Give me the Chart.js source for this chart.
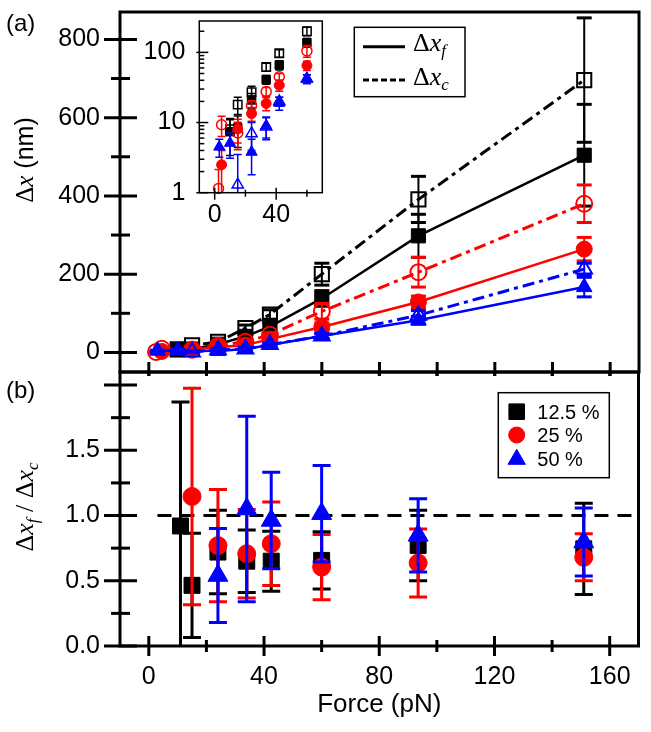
<!DOCTYPE html>
<html>
<head>
<meta charset="utf-8">
<script src="https://cdn.jsdelivr.net/npm/chart.js@4/dist/chart.umd.min.js"></script>
<style>
html, body { margin: 0; padding: 0; background: #fff; }
#wrap { position: relative; width: 651px; height: 732px; background: #fff; }
#wrap canvas { position: absolute; left: 0; top: 0; }
</style>
</head>
<body>
<div id="wrap">
  <canvas id="cB" width="651" height="732"></canvas>
  <canvas id="cA" width="651" height="732"></canvas>
  <canvas id="cI" width="651" height="732"></canvas>
</div>
<script>
// ---------------- DATA ----------------
const xTicksMain = [0, 40, 80, 120, 160];
const xMinorMain = [20, 60, 100, 140];
const yTicksA = [0, 200, 400, 600, 800];
const yMinorA = [100, 300, 500, 700];
const yTicksB = [0, 0.5, 1.0, 1.5];
const yMajorB = [0, 0.5, 1.0, 1.5, 2.0];
const yMinorB = [0.25, 0.75, 1.25, 1.75];
const insetXTicks = [0, 40];
const insetXMinor = [20, 60];
const insetYTicks = [1, 10, 100];
const insetYMinor = [2, 3, 4, 5, 6, 7, 8, 9, 20, 30, 40, 50, 60, 70, 80, 90, 200];

// 12.5 %
const force12 = [10, 15, 24, 33.5, 42, 60, 93.5, 151];
const dxf12 = [7.4, 8.4, 21, 41, 66, 138, 298, 504];
const dxf12Err = [4, 4, 5, 6, 10, 20, 55, 130];
const dxc12 = [8, 18, 27, 62, 97, 200, 391, 696];
const dxc12Err = [3, 5, 6, 8, 12, 28, 59, 159];
// 25 %
const force25f = [4.5, 15, 24, 33.5, 42, 60, 93.5, 151];
const dxf25 = [2.5, 8.1, 13.4, 18.7, 34, 65, 129, 264];
const dxf25Err = [1.5, 3, 3, 4, 6, 10, 15, 30];
const force25c = [2.5, 4.5, 15, 24, 33.5, 42, 60, 93.5, 151];
const dxc25 = [1.15, 9.3, 7.1, 17.4, 27.6, 45, 105, 205, 380];
const dxc25Err = [1, 3, 3, 3, 4, 5, 20, 38, 48];
// 50 %
const force50f = [3, 10, 24, 33.5, 42, 60, 93.5, 151];
const dxf50 = [4.5, 5.1, 3.8, 9, 19, 42, 82, 167];
const dxf50Err = [1.3, 2, 2, 3, 4, 6, 10, 25];
const force50c = [15, 24, 33.5, 42, 60, 93.5, 151];
const dxc50 = [1.3, 7.0, 8.7, 20, 42, 95, 213];
const dxc50Err = [2.2, 3, 3, 3, 6, 12, 15];

// ratio Δx_f / Δx_c
const forceR12 = [11, 15, 24, 34, 42.5, 60, 93.5, 151];
const ratio12 = [0.92, 0.465, 0.72, 0.65, 0.65, 0.656, 0.771, 0.745];
const ratio12Err = [0.95, 0.40, 0.32, 0.24, 0.23, 0.22, 0.27, 0.35];
const forceR25 = [15, 24, 34, 42.5, 60, 93.5, 151];
const ratio25 = [1.146, 0.77, 0.707, 0.784, 0.605, 0.636, 0.68];
const ratio25Err = [0.83, 0.43, 0.34, 0.32, 0.25, 0.26, 0.18];
const forceR50 = [24, 34, 42.5, 60, 93.5, 151];
const ratio50 = [0.54, 1.05, 0.962, 1.014, 0.848, 0.797];
const ratio50Err = [0.36, 0.71, 0.37, 0.37, 0.28, 0.26];
const refLineX = [3, 170];
const refLineY = [1, 1];

const seriesLabels = ['12.5 %', '25 %', '50 %'];

// ---------------- STYLE ----------------
const SANS = '"Liberation Sans", Arial, sans-serif';
const SERIF = '"Liberation Serif", "Times New Roman", serif';
const BLACK = '#000000', RED = '#ff0000', BLUE = '#0000ff';
const DASHDOT = [12, 5, 4, 5];
Chart.defaults.font.family = SANS;
Chart.defaults.color = '#000';

const pts = (xs, ys) => xs.map((x, i) => ({ x: x, y: ys[i] }));

function strokeLine(ctx, x1, y1, x2, y2) {
  ctx.beginPath(); ctx.moveTo(x1, y1); ctx.lineTo(x2, y2); ctx.stroke();
}
function richText(ctx, parts, x, y, rot, align) {
  ctx.save();
  ctx.translate(x, y);
  if (rot) ctx.rotate(rot);
  let total = 0;
  parts.forEach(p => { ctx.font = p.font; p.w = ctx.measureText(p.t).width; total += p.w; });
  let cx = align === 'center' ? -total / 2 : 0;
  ctx.textBaseline = 'alphabetic'; ctx.textAlign = 'left'; ctx.fillStyle = '#000';
  parts.forEach(p => { ctx.font = p.font; ctx.fillText(p.t, cx, p.dy || 0); cx += p.w; });
  ctx.restore();
}
function dxParts(sub, size) {
  return [
    { t: 'Δ', font: size + 'px ' + SERIF },
    { t: 'x', font: 'italic ' + size + 'px ' + SERIF },
    { t: sub, font: 'italic ' + Math.round(size * 0.65) + 'px ' + SERIF, dy: size * 0.2 }
  ];
}

// error bars, drawn through the chart's scales
const errPlugin = {
  id: 'err',
  beforeDatasetDraw(chart, args, opts) {
    const ds = chart.data.datasets[args.index];
    if (!ds.errors) return;
    const xs = chart.scales.x, ys = chart.scales.y, ctx = chart.ctx, a = chart.chartArea;
    ctx.save();
    ctx.beginPath(); ctx.rect(a.left, a.top - 2, a.right - a.left, a.bottom - a.top + 2); ctx.clip();
    ctx.strokeStyle = ds.borderColor; ctx.setLineDash([]);
    ds.data.forEach((p, i) => {
      const e = ds.errors[i];
      const px = xs.getPixelForValue(p.x);
      const top = ys.getPixelForValue(p.y + e);
      const lowV = p.y - e;
      const bot = ys.getPixelForValue(opts.log && lowV <= 0 ? 0.01 : lowV);
      ctx.lineWidth = opts.lw;
      strokeLine(ctx, px, top, px, bot);
      ctx.lineWidth = opts.capLw;
      strokeLine(ctx, px - opts.cap, top, px + opts.cap, top);
      strokeLine(ctx, px - opts.cap, bot, px + opts.cap, bot);
    });
    ctx.restore();
  }
};

function yAxis(type, min, max, ticks, fmt, width, pad, size) {
  return {
    type: type, position: 'left', min: min, max: max,
    afterBuildTicks: s => { s.ticks = ticks.map(v => ({ value: v })); },
    afterFit: s => { s.width = width; s.paddingTop = 0; s.paddingBottom = 0; },
    grid: { display: false, drawTicks: false }, border: { display: false },
    ticks: { padding: pad, autoSkip: false, color: '#000', font: { family: SANS, size: size }, callback: fmt }
  };
}
function xAxis(min, max, ticks, height, pad, size, title) {
  return {
    type: 'linear', position: 'bottom', min: min, max: max,
    afterBuildTicks: s => { s.ticks = ticks.map(v => ({ value: v })); },
    afterFit: s => { s.height = height; s.paddingLeft = 0; s.paddingRight = 0; },
    grid: { display: false, drawTicks: false }, border: { display: false },
    ticks: { padding: pad, autoSkip: false, maxRotation: 0, color: '#000', font: { family: SANS, size: size }, callback: v => String(v) },
    title: title || { display: false }
  };
}

function series(label, xs, ys, errs, color, style, filled, dashed, r, lw, showLine) {
  return {
    label: label, data: pts(xs, ys), errors: errs,
    borderColor: color, backgroundColor: color,
    pointStyle: style, pointRadius: r, pointHoverRadius: r,
    pointBackgroundColor: filled ? color : 'rgba(0,0,0,0)',
    pointBorderColor: color, pointBorderWidth: filled ? 1 : lw,
    showLine: showLine, borderWidth: dashed ? 3 : 2.5, borderDash: dashed ? DASHDOT : [],
    tension: 0, fill: false, clip: false
  };
}

const common = {
  responsive: false, maintainAspectRatio: false, animation: false, devicePixelRatio: 1, events: []
};

// ---------------- PANEL (a) ----------------
const chartA = new Chart(document.getElementById('cA'), {
  type: 'scatter',
  data: {
    datasets: [
      series('Δx_f 50 %', force50f, dxf50, dxf50Err, BLUE, 'triangle', true, false, 9, 2, true),
      series('Δx_c 50 %', force50c, dxc50, dxc50Err, BLUE, 'triangle', false, true, 9, 2, true),
      series('Δx_f 25 %', force25f, dxf25, dxf25Err, RED, 'circle', true, false, 8, 2, true),
      series('Δx_c 25 %', force25c, dxc25, dxc25Err, RED, 'circle', false, true, 8, 2, true),
      series('Δx_f 12.5 %', force12, dxf12, dxf12Err, BLACK, 'rect', true, false, 10, 2, true),
      series('Δx_c 12.5 %', force12, dxc12, dxc12Err, BLACK, 'rect', false, true, 10, 2, true)
    ]
  },
  options: Object.assign({}, common, {
    layout: { padding: { left: 0, top: 10, right: 9.3, bottom: 360 } },
    scales: {
      x: { type: 'linear', min: -10, max: 170, display: false },
      y: yAxis('linear', -50, 870, yTicksA, v => String(v), 120, 20, 25)
    },
    plugins: { legend: { display: false }, tooltip: { enabled: false },
      err: { lw: 2, capLw: 3, cap: 7.5 } }
  }),
  plugins: [errPlugin, {
    id: 'decorA',
    afterDraw(chart) {
      const ctx = chart.ctx, a = chart.chartArea, x = chart.scales.x, y = chart.scales.y;
      ctx.save();
      ctx.strokeStyle = '#000'; ctx.lineWidth = 3; ctx.setLineDash([]);
      ctx.strokeRect(a.left, a.top, a.right - a.left, a.bottom - a.top);
      yTicksA.forEach(v => { const p = y.getPixelForValue(v); strokeLine(ctx, a.left - 16, p, a.left + 17, p); });
      yMinorA.forEach(v => { const p = y.getPixelForValue(v); strokeLine(ctx, a.left - 9, p, a.left + 10, p); });
      xTicksMain.concat(xMinorMain).forEach(v => { const p = x.getPixelForValue(v); strokeLine(ctx, p, a.bottom - 10, p, a.bottom + 4); });
      // legend
      ctx.lineWidth = 1.5; ctx.strokeRect(354.3, 27.3, 110.7, 69.4);
      ctx.lineWidth = 3; strokeLine(ctx, 363, 46.7, 405, 46.7);
      ctx.setLineDash([6, 3]); strokeLine(ctx, 363, 80, 405, 80); ctx.setLineDash([]);
      richText(ctx, dxParts('f', 26), 413, 51, 0, 'left');
      richText(ctx, dxParts('c', 26), 413, 85, 0, 'left');
      // axis title and panel label
      richText(ctx, [
        { t: 'Δ', font: '25px ' + SERIF },
        { t: 'x', font: 'italic 25px ' + SERIF },
        { t: ' (nm)', font: '25px ' + SANS }
      ], 33, 160, -Math.PI / 2, 'center');
      ctx.fillStyle = '#000'; ctx.font = '24px ' + SANS; ctx.textBaseline = 'alphabetic'; ctx.textAlign = 'left';
      ctx.fillText('(a)', 6, 31);
      ctx.restore();
    }
  }]
});

// ---------------- PANEL (b) ----------------
const chartB = new Chart(document.getElementById('cB'), {
  type: 'scatter',
  data: {
    datasets: [
      series(seriesLabels[2], forceR50, ratio50, ratio50Err, BLUE, 'triangle', true, false, 11.5, 2, false),
      series(seriesLabels[1], forceR25, ratio25, ratio25Err, RED, 'circle', true, false, 9, 2, false),
      series(seriesLabels[0], forceR12, ratio12, ratio12Err, BLACK, 'rect', true, false, 11.3, 2, false),
      { label: 'ratio = 1', data: pts(refLineX, refLineY), showLine: true, borderColor: BLACK,
        borderWidth: 3, borderDash: [14, 9], pointRadius: 0, fill: false, clip: false }
    ]
  },
  options: Object.assign({}, common, {
    layout: { padding: { left: 0, top: 372, right: 9.3, bottom: 0 } },
    scales: {
      x: xAxis(-10, 170, xTicksMain, 86, 16, 25,
        { display: true, text: 'Force (pN)', color: '#000', font: { family: SANS, size: 26 }, padding: { top: 0, bottom: 12 } }),
      y: yAxis('linear', 0, 2.1, yTicksB, v => v.toFixed(1), 120, 20, 25)
    },
    plugins: { legend: { display: false }, tooltip: { enabled: false },
      err: { lw: 3, capLw: 3, cap: 9 } }
  }),
  plugins: [errPlugin, {
    id: 'decorB',
    afterDraw(chart) {
      const ctx = chart.ctx, a = chart.chartArea, x = chart.scales.x, y = chart.scales.y;
      ctx.save();
      ctx.strokeStyle = '#000'; ctx.lineWidth = 3; ctx.setLineDash([]);
      ctx.strokeRect(a.left, a.top, a.right - a.left, a.bottom - a.top);
      yMajorB.forEach(v => { const p = y.getPixelForValue(v); strokeLine(ctx, a.left - 16, p, a.left + 17, p); });
      yMinorB.forEach(v => { const p = y.getPixelForValue(v); strokeLine(ctx, a.left - 9, p, a.left + 10, p); });
      xTicksMain.forEach(v => { const p = x.getPixelForValue(v); strokeLine(ctx, p, a.bottom - 10, p, a.bottom + 10); });
      xMinorMain.forEach(v => { const p = x.getPixelForValue(v); strokeLine(ctx, p, a.bottom - 6, p, a.bottom + 6); });
      xTicksMain.concat(xMinorMain).forEach(v => { const p = x.getPixelForValue(v); strokeLine(ctx, p, a.top, p, a.top + 4); });
      // legend
      ctx.lineWidth = 1.5; ctx.strokeRect(498.3, 392.7, 111, 85);
      const rows = [411.7, 435, 459.3];
      const ds = chart.data.datasets;
      [ds[2], ds[1], ds[0]].forEach((d, i) => {
        ctx.fillStyle = d.borderColor; ctx.strokeStyle = d.borderColor; ctx.lineWidth = 1;
        Chart.helpers.drawPoint(ctx, { pointStyle: d.pointStyle, radius: d.pointStyle === 'circle' ? 8 : (d.pointStyle === 'rect' ? 11 : 10), rotation: 0, borderWidth: 1 }, 516.7, rows[i]);
        ctx.fillStyle = '#000'; ctx.font = '20px ' + SANS; ctx.textAlign = 'left'; ctx.textBaseline = 'alphabetic';
        ctx.fillText(d.label, 537.3, rows[i] + 7);
      });
      // axis title and panel label
      richText(ctx, [
        { t: 'Δ', font: '26px ' + SERIF },
        { t: 'x', font: 'italic 26px ' + SERIF },
        { t: 'f', font: 'italic 17px ' + SERIF, dy: 5 },
        { t: ' / ', font: '26px ' + SERIF },
        { t: 'Δ', font: '26px ' + SERIF },
        { t: 'x', font: 'italic 26px ' + SERIF },
        { t: 'c', font: 'italic 17px ' + SERIF, dy: 5 }
      ], 33, 507, -Math.PI / 2, 'center');
      ctx.fillStyle = '#000'; ctx.font = '24px ' + SANS; ctx.textBaseline = 'alphabetic'; ctx.textAlign = 'left';
      ctx.fillText('(b)', 6, 398);
      ctx.restore();
    }
  }]
});

// ---------------- INSET (log scale) ----------------
const chartI = new Chart(document.getElementById('cI'), {
  type: 'scatter',
  data: {
    datasets: [
      series('Δx_f 50 %', force50f, dxf50, dxf50Err, BLUE, 'triangle', true, false, 6.5, 1.5, false),
      series('Δx_c 50 %', force50c, dxc50, dxc50Err, BLUE, 'triangle', false, true, 6.5, 1.5, false),
      series('Δx_f 25 %', force25f, dxf25, dxf25Err, RED, 'circle', true, false, 5, 1.5, false),
      series('Δx_c 25 %', force25c, dxc25, dxc25Err, RED, 'circle', false, true, 5, 1.5, false),
      series('Δx_f 12.5 %', force12, dxf12, dxf12Err, BLACK, 'rect', true, false, 6, 1.5, false),
      series('Δx_c 12.5 %', force12, dxc12, dxc12Err, BLACK, 'rect', false, true, 6, 1.5, false)
    ]
  },
  options: Object.assign({}, common, {
    layout: { padding: { left: 99.3, top: 21, right: 328.7, bottom: 489.3 } },
    scales: {
      x: xAxis(-10, 70, insetXTicks, 50, 7, 25),
      y: yAxis('logarithmic', 1, 280, insetYTicks, v => String(v), 100, 14, 25)
    },
    plugins: { legend: { display: false }, tooltip: { enabled: false },
      err: { lw: 1.5, capLw: 1.5, cap: 4, log: true } }
  }),
  plugins: [{
    id: 'insetBg',
    beforeDatasetsDraw(chart) {
      const ctx = chart.ctx, a = chart.chartArea;
      ctx.save(); ctx.fillStyle = '#fff'; ctx.fillRect(a.left, a.top, a.right - a.left, a.bottom - a.top); ctx.restore();
    }
  }, errPlugin, {
    id: 'decorI',
    afterDraw(chart) {
      const ctx = chart.ctx, a = chart.chartArea, x = chart.scales.x, y = chart.scales.y;
      ctx.save();
      ctx.strokeStyle = '#000'; ctx.lineWidth = 1.5; ctx.setLineDash([]);
      ctx.strokeRect(a.left, a.top, a.right - a.left, a.bottom - a.top);
      insetYTicks.forEach(v => { const p = y.getPixelForValue(v); strokeLine(ctx, a.left - 3, p, a.left + 9, p); });
      insetYMinor.forEach(v => { const p = y.getPixelForValue(v); strokeLine(ctx, a.left, p, a.left + 5, p); });
      insetXTicks.forEach(v => { const p = x.getPixelForValue(v); strokeLine(ctx, p, a.bottom - 5, p, a.bottom + 7); });
      insetXMinor.forEach(v => { const p = x.getPixelForValue(v); strokeLine(ctx, p, a.bottom - 3, p, a.bottom + 4); });
      ctx.restore();
    }
  }]
});
</script>
</body>
</html>
